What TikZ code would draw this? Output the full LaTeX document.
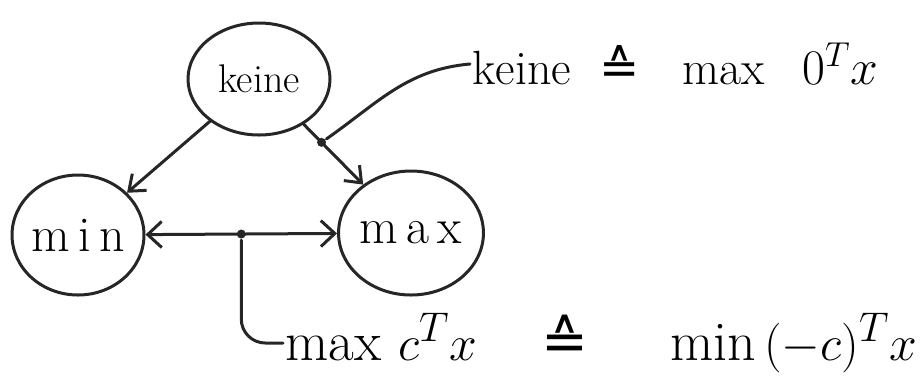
\documentclass[tikz,border=0pt]{standalone}
\usepackage{fontspec}
\newfontfamily\dvfont{DejaVu Sans}
\newcommand{\corr}{\mathrel{\hbox{\dvfont ≙}}}
\usetikzlibrary{shapes.geometric,arrows.meta}
\begin{document}
\begin{tikzpicture}[x=0.5pt,y=-0.5pt,
  stroke/.style={line width=1.5pt, line cap=round, line join=round, draw=black!85},
  bubble/.style={ellipse, stroke, inner sep=0pt, font=\fontsize{25}{28}\selectfont},
  dot/.style={circle, fill=black!85, inner sep=0pt, minimum size=4.5pt},
  tip/.style={-{Straight Barb[length=7pt,width=11pt,line width=1.5pt]}},
  tips/.style={{Straight Barb[length=7pt,width=13pt,line width=1.5pt]}-{Straight Barb[length=7pt,width=13pt,line width=1.5pt]}},
  lab/.style={anchor=west, inner sep=1pt}]
\useasboundingbox (0,0) rectangle (921,382);
\node[bubble, minimum width=71pt, minimum height=56pt, font=\fontsize{20}{24}\selectfont] (keine) at (259,79) {keine};
\node[bubble, minimum width=60pt, minimum height=60pt] (min) at (78,235) {m\,i\,n};
\node[bubble, minimum width=70pt, minimum height=62pt] (max) at (411,233) {m\,a\,x};
\node[lab, font=\fontsize{24}{28}\selectfont] (lab1) at (470,64) {$\mathrm{keine}\ \corr\ \ \max\ \ 0^T x$};
\node[lab, font=\fontsize{28}{32}\selectfont] (lab2) at (283,343) {$\max\, c^T x\ \ \ \corr\ \ \ \ \min\,(-c)^T x$};
\draw[stroke, tip] (keine) -- (min);
\draw[stroke, tip] (keine) -- node[dot, pos=0.3] (d1) {} (max);
\draw[stroke, tips] (min) -- node[dot] (d2) {} (max);
\draw[stroke] (d1) to[out=35, in=185] (lab1.west);
\draw[stroke, rounded corners=12pt] (d2) |- (lab2.west);
\end{tikzpicture}
\end{document}
